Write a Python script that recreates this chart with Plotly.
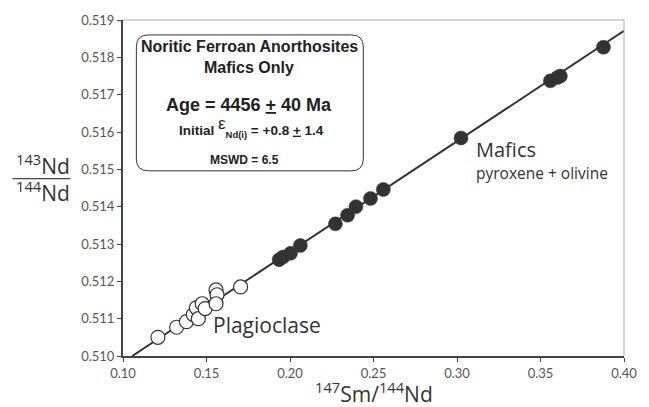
import plotly.graph_objects as go

# Data
plag_x = [0.1209, 0.1321, 0.1380, 0.1421, 0.1439, 0.1474, 0.1451, 0.1492, 0.1557, 0.1563, 0.1557, 0.1704]
plag_y = [0.51050, 0.51077, 0.51092, 0.51111, 0.51129, 0.51140, 0.51100, 0.51127, 0.51177, 0.51164, 0.51140, 0.51185]

maf_x = [0.1935, 0.1958, 0.2003, 0.2062, 0.2272, 0.2345, 0.2395, 0.2482, 0.2559, 0.3024, 0.3559, 0.3602, 0.3619, 0.3877]
maf_y = [0.51258, 0.51265, 0.51275, 0.51296, 0.51354, 0.51377, 0.51400, 0.51422, 0.51446, 0.51584, 0.51737, 0.51746, 0.51750, 0.51827]

iso_slope = 0.02957
iso_intercept = 0.50688

x_ticks = [0.10, 0.15, 0.20, 0.25, 0.30, 0.35, 0.40]
x_tick_labels = ["0.10", "0.15", "0.20", "0.25", "0.30", "0.35", "0.40"]
y_ticks = [0.510, 0.511, 0.512, 0.513, 0.514, 0.515, 0.516, 0.517, 0.518, 0.519]
y_tick_labels = ["0.510", "0.511", "0.512", "0.513", "0.514", "0.515", "0.516", "0.517", "0.518", "0.519"]

x_min, x_max = 0.10, 0.40
y_min, y_max = 0.510, 0.519

line_x0 = (y_min - iso_intercept) / iso_slope
line_x = [line_x0, x_max]
line_y = [iso_intercept + iso_slope * v for v in line_x]

fig = go.Figure()
fig.add_trace(go.Scatter(x=line_x, y=line_y, mode="lines",
                         line=dict(color="#333333", width=2), hoverinfo="skip"))
fig.add_trace(go.Scatter(x=plag_x, y=plag_y, mode="markers",
                         marker=dict(size=14, color="white", line=dict(color="#333333", width=1.2))))
fig.add_trace(go.Scatter(x=maf_x, y=maf_y, mode="markers",
                         marker=dict(size=14, color="#333333", line=dict(color="#333333", width=0.5))))

tick_font = dict(family="Lato, 'Open Sans', sans-serif", size=13, color="#555555")
fig.update_xaxes(range=[x_min, x_max], tickvals=x_ticks, ticktext=x_tick_labels,
                 showgrid=False, zeroline=False, showline=True, linecolor="#444444", linewidth=2,
                 ticks="outside", ticklen=4, tickcolor="#444444", tickfont=tick_font)
fig.update_yaxes(range=[y_min, y_max], tickvals=y_ticks, ticktext=y_tick_labels,
                 showgrid=False, zeroline=False, showline=True, linecolor="#444444", linewidth=2,
                 ticks="outside", ticklen=4, tickcolor="#444444", tickfont=tick_font)

# top/right light border
fig.add_shape(type="line", xref="paper", yref="paper", x0=0, x1=1, y0=1, y1=1,
              line=dict(color="#aaaaaa", width=1))
fig.add_shape(type="line", xref="paper", yref="paper", x0=1, x1=1, y0=0, y1=1,
              line=dict(color="#aaaaaa", width=1))

# rounded box
bx0, bx1, by0, by1 = 0.1080, 0.2439, 0.51496, 0.51860
rx, ry = 0.0072, 0.00032
path = (f"M {bx0+rx},{by1} L {bx1-rx},{by1} Q {bx1},{by1} {bx1},{by1-ry} "
        f"L {bx1},{by0+ry} Q {bx1},{by0} {bx1-rx},{by0} "
        f"L {bx0+rx},{by0} Q {bx0},{by0} {bx0},{by0+ry} "
        f"L {bx0},{by1-ry} Q {bx0},{by1} {bx0+rx},{by1} Z")
fig.add_shape(type="path", path=path, xref="x", yref="y",
              line=dict(color="#333333", width=1), fillcolor="rgba(0,0,0,0)")

box_font = "Arial, 'Liberation Sans', sans-serif"

W, H = 649, 407
L, R, T, B = 122.5, 632, 15, 356
def to_paper(px, py):
    return (px - L) / (R - L), (B - py) / (B - T)

def ann(text, px, py, size, family=box_font, color="#222222", xanchor="center"):
    x, y = to_paper(px, py)
    fig.add_annotation(text=text, x=x, y=y, xref="paper", yref="paper",
                       xanchor=xanchor, yanchor="middle", showarrow=False,
                       font=dict(family=family, size=size, color=color))

ann("<b>Noritic Ferroan Anorthosites</b>", 251, 42, 16)
ann("<b>Mafics Only</b>", 251, 63, 16)
ann("<b>Age = 4456 <u>+</u> 40 Ma</b>", 251, 101, 18)
ann("<b>Initial </b><sup><span style='font-size:17px'>ε</span></sup><sub><b>Nd(i)</b></sub><b> = +0.8 <u>+</u> 1.4</b>", 253, 124, 13.5)
ann("<b>MSWD = 6.5</b>", 246, 157, 12)

label_font = "'Open Sans', Lato, sans-serif"
ann("Mafics", 479, 146, 20, family=label_font, color="#333333", xanchor="left")
ann("pyroxene + olivine", 479, 170, 15.5, family=label_font, color="#333333", xanchor="left")
ann("Plagioclase", 212, 325, 21, family=label_font, color="#333333", xanchor="left")

# axis titles
ann("<sup>147</sup>Sm/<sup>144</sup>Nd", 378, 393, 21, family=label_font, color="#333333")
ann("<sup>143</sup>Nd", 12, 162, 21, family=label_font, color="#333333", xanchor="left")
ann("<sup>144</sup>Nd", 12, 189, 21, family=label_font, color="#333333", xanchor="left")
lx0, ly = to_paper(10, 176)
lx1, _ = to_paper(69, 176)
fig.add_shape(type="line", xref="paper", yref="paper", x0=lx0, x1=lx1, y0=ly, y1=ly,
              line=dict(color="#444444", width=1.2))

fig.update_layout(width=W, height=H, margin=dict(l=L, r=W - R, t=T, b=H - B),
                  plot_bgcolor="white", paper_bgcolor="white", showlegend=False)

fig.write_html("out.html")
